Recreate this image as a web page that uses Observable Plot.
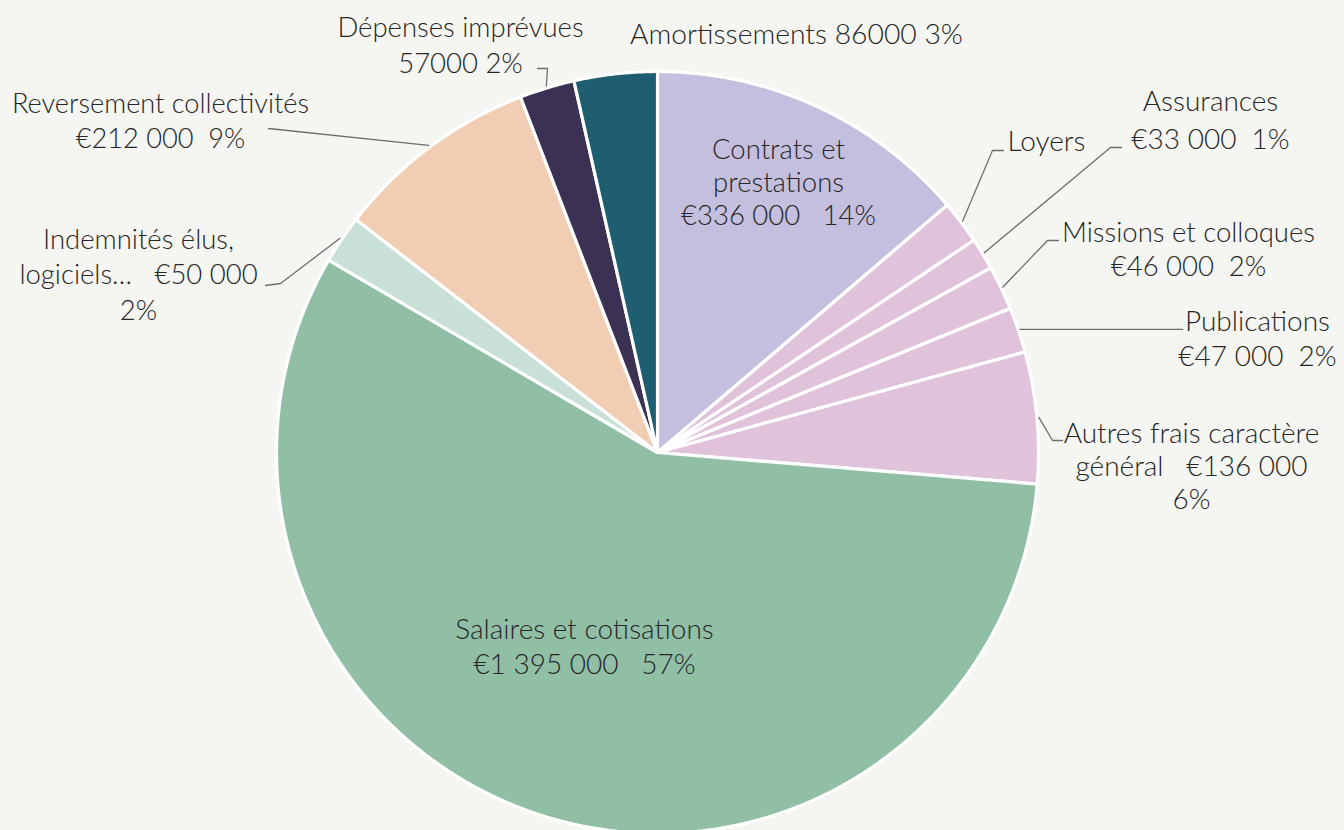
<!DOCTYPE html>
<html><head><meta charset="utf-8">
<script src="https://cdn.jsdelivr.net/npm/d3@7"></script>
<script src="https://cdn.jsdelivr.net/npm/@observablehq/plot@0.6"></script>
<style>
html,body{margin:0;padding:0;background:#f5f5f1;}
#chart svg{display:block;}
#chart text{white-space:pre;}
</style></head><body><div id="chart"></div>
<script>
// ---- data (clockwise from 12 o'clock) ----
const categories = [
  "Contrats et prestations", "Loyers", "Assurances", "Missions et colloques",
  "Publications", "Autres frais caractère général", "Salaires et cotisations",
  "Indemnités élus, logiciels…", "Reversement collectivités",
  "Dépenses imprévues", "Amortissements"
];
const values = [336000, 45000, 33000, 46000, 47000, 136000, 1395000, 50000, 212000, 57000, 86000];
const percents = [14, null, 1, 2, 2, 6, 57, 2, 9, 2, 3];
const colors = ["#c4bfde", "#e0c3da", "#e0c3da", "#e0c3da", "#e0c3da", "#e0c3da",
                "#90bfa6", "#c8e0d6", "#f0cdb3", "#3b3152", "#1f5e70"];

const euro = v => "€" + d3.format(",")(v).replace(/,/g, " ");
const plain = v => String(v);
// label text lines (built from values / percents)
const labelLines = [
  (v, p) => ["Contrats et", "prestations", `${euro(v)}   ${p}%`],
  () => ["Loyers"],
  (v, p) => ["Assurances", `${euro(v)}  ${p}%`],
  (v, p) => ["Missions et colloques", `${euro(v)}  ${p}%`],
  (v, p) => ["Publications", `${euro(v)}  ${p}%`],
  (v, p) => ["Autres frais caractère", `général   ${euro(v)}`, `${p}%`],
  (v, p) => ["Salaires et cotisations", `${euro(v)}   ${p}%`],
  (v, p) => ["Indemnités élus,", `logiciels…   ${euro(v)}`, `${p}%`],
  (v, p) => ["Reversement collectivités", `${euro(v)}  ${p}%`],
  (v, p) => ["Dépenses imprévues", `${plain(v)} ${p}%`],
  (v, p) => [`Amortissements ${plain(v)} ${p}%`]
];

// ---- layout ----
const W = 1344, H = 830;
const pieGeom = {cx: 657, cy: 452, r: 381};
// label placement: x, first baseline y, line height, anchor, font size
const labelLayout = [
  {x: 778, y: 158, lh: 33, anchor: "middle", fs: 27.5},
  {x: 1007, y: 150, lh: 34, anchor: "start", fs: 28},
  {x: 1210, y: 110, lh: 38, anchor: "middle", fs: 28},
  {x: 1188, y: 241, lh: 34, anchor: "middle", fs: 27.5},
  {x: 1257, y: 330, lh: 35, anchor: "middle", fs: 28},
  {x: 1191, y: 442, lh: 33, anchor: "middle", fs: 28},
  {x: 584, y: 638, lh: 35, anchor: "middle", fs: 28},
  {x: 138, y: 248, lh: 35.5, anchor: "middle", fs: 27.5},
  {x: 160, y: 112, lh: 35, anchor: "middle", fs: 27.2},
  {x: 460, y: 36, lh: 36, anchor: "middle", fs: 27.5},
  {x: 796, y: 43, lh: 34, anchor: "middle", fs: 28.3}
];
// leader lines: start on the rim at slice mid-angle, then elbow points
const leaderLayout = [
  null,
  [[992, 150], [1003, 150]],
  [[1110, 147], [1121, 147]],
  [[1047, 240], [1058, 240]],
  [[1182, null]],
  [[1052, 440], [1062, 440]],
  null,
  [[280, 283], [265, 285]],
  [[268, 128]],
  [[547, 68], [537, 68]],
  null
];

// ---- build ----
const slices = categories.map((c, i) => ({cat: c, value: values[i], color: colors[i], i}));
const arcs = d3.pie().sort(null).value(d => d.value)(slices);
const rim = (a, rr) => [pieGeom.cx + rr * Math.sin(a), pieGeom.cy - rr * Math.cos(a)];

const slicePts = [];
for (const a of arcs) {
  slicePts.push({cat: a.data.cat, color: a.data.color, x: pieGeom.cx, y: pieGeom.cy});
  const n = Math.max(2, Math.ceil((a.endAngle - a.startAngle) / (Math.PI / 720)));
  for (let k = 0; k <= n; k++) {
    const t = a.startAngle + (a.endAngle - a.startAngle) * k / n;
    const [x, y] = rim(t, pieGeom.r);
    slicePts.push({cat: a.data.cat, color: a.data.color, x, y});
  }
}

const textRows = [];
arcs.forEach((a, i) => {
  const L = labelLayout[i];
  labelLines[i](values[i], percents[i]).forEach((s, j) => {
    textRows.push({text: s, x: L.x, y: L.y + j * L.lh, anchor: L.anchor, fs: L.fs});
  });
});

const leaderPts = [];
arcs.forEach((a, i) => {
  const pts = leaderLayout[i];
  if (!pts) return;
  const mid = (a.startAngle + a.endAngle) / 2;
  const [sx, sy] = rim(mid, pieGeom.r + 2);
  leaderPts.push({id: i, x: sx, y: sy});
  pts.forEach(([x, y]) => leaderPts.push({id: i, x, y: y == null ? sy : y}));
});

const textMarks = [...new Set(textRows.map(d => d.anchor + "|" + d.fs))].map(key => {
  const [anchor, fs] = key.split("|");
  return Plot.text(textRows.filter(d => d.anchor === anchor && d.fs === +fs), {
    x: "x", y: "y", text: "text", textAnchor: anchor, lineAnchor: "bottom",
    fontSize: +fs, fill: "#262626", fontWeight: 300, fontFamily: "Lato"
  });
});

const chart = Plot.plot({
  width: W, height: H, margin: 0,
  x: {domain: [0, W], range: [0, W], axis: null},
  y: {domain: [0, H], range: [0, H], axis: null},
  color: {type: "identity"},
  style: {background: "transparent", fontFamily: "Lato"},
  marks: [
    Plot.line(slicePts, {x: "x", y: "y", z: "cat", fill: "color", stroke: "white",
      strokeWidth: 3.2, strokeLinejoin: "round", curve: "linear-closed"}),
    Plot.line(leaderPts, {x: "x", y: "y", z: "id", stroke: "#6e6e6e", strokeWidth: 1.3}),
    ...textMarks
  ]
});
document.getElementById("chart").appendChild(chart);
</script></body></html>
